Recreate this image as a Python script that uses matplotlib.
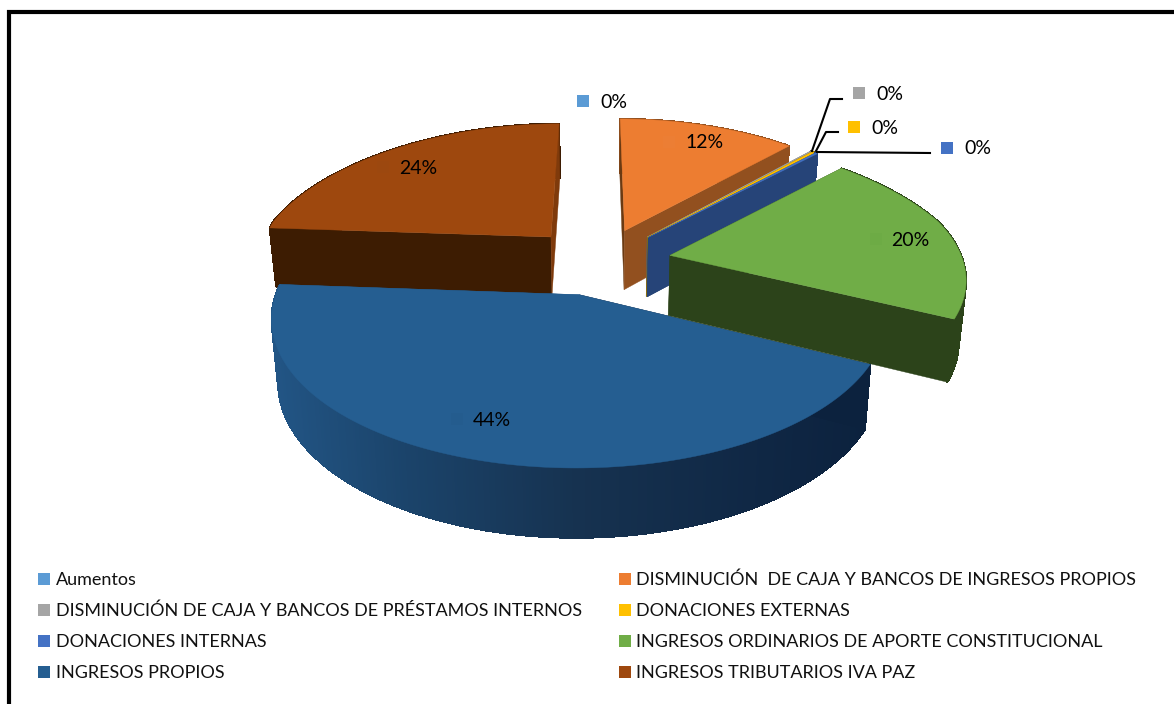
import numpy as np
import matplotlib
matplotlib.use("Agg")
import matplotlib.pyplot as plt
from matplotlib.patches import Rectangle

categories = [
    "Aumentos",
    "DISMINUCIÓN  DE CAJA Y BANCOS DE INGRESOS PROPIOS",
    "DISMINUCIÓN DE CAJA Y BANCOS DE PRÉSTAMOS INTERNOS",
    "DONACIONES EXTERNAS",
    "DONACIONES INTERNAS",
    "INGRESOS ORDINARIOS DE APORTE CONSTITUCIONAL",
    "INGRESOS PROPIOS",
    "INGRESOS TRIBUTARIOS IVA PAZ",
]
values = [0.0, 11.9, 0.1, 0.2, 0.15, 19.9, 43.8, 23.85]
colors = ["#5b9bd5", "#ed7d31", "#a5a5a5", "#ffc000", "#4472c4", "#70ad47", "#255e91", "#9e480e"]
# side colours: the face at the start angle, the face at the end angle, the rim
start_faces = ["#5b9bd5", "#6b3a12", "#5f5f5f", "#927000", "#264478", "#2c431a", "#0c223e", "#3d1c02"]
end_faces = ["#5b9bd5", "#92501f", "#5f5f5f", "#927000", "#264478", "#2c431a", "#225585", "#7f3a0b"]
rims = ["#5b9bd5", "#92501f", "#5f5f5f", "#927000", "#264478", "#2c431a", None, "#3d1c02"]

# where the pie sits on the page, in pixels
CX, CY = 599, 261
A, B, PERSP = 293, 136.5, 0.148
EXPLODE = 0.247


def top_point(u, v):
    s = 1 / (1 + PERSP * v)
    # the far half narrows a bit more than it flattens
    squeeze = 1 / (1 + 0.06 * np.maximum(v - 0.3, 0))
    return CX + A * u * s * squeeze, CY - B * v * s


def bottom_point(x, y):
    return CX + (x - CX) * 0.98, y + 59 + (y - 230) * 0.045


def blue_rim_color(x):
    xs = [270, 400, 575, 800, 870]
    rgb = [(0x22, 0x55, 0x85), (0x1b, 0x44, 0x6b), (0x16, 0x32, 0x50), (0x0e, 0x25, 0x42), (0x0c, 0x22, 0x3e)]
    return tuple(np.interp(x, xs, [c[i] for c in rgb]) / 255 for i in range(3))


fig = plt.figure(figsize=(11.74, 7.04), dpi=100)
ax = fig.add_axes([0, 0, 1, 1])
ax.set_xlim(0, 1174)
ax.set_ylim(704, 0)
ax.axis("off")
plt.rcParams["font.family"] = ["Lato", "DejaVu Sans"]

# outer frame: left and top only, the right side runs off the page
ax.plot([9, 9, 1174], [704, 12, 12], color="black", lw=3.0, solid_joinstyle="miter")

shares = np.array(values) / sum(values) * 2 * np.pi
ends = np.cumsum(shares)
starts = ends - shares

# painter's order: back wedges first, then the front ones
order = [7, 1, 2, 3, 4, 6, 5]
for i in order:
    t0, t1 = starts[i], ends[i]
    mid = (t0 + t1) / 2
    off_u, off_v = EXPLODE * np.sin(mid), EXPLODE * np.cos(mid)
    ts = np.linspace(t0, t1, max(2, int(np.degrees(t1 - t0)) * 2))
    px, py = top_point(off_u + np.sin(ts), off_v + np.cos(ts))
    ax_, ay_ = top_point(off_u, off_v)
    bx, by = bottom_point(px, py)
    abx, aby = bottom_point(ax_, ay_)

    # rim
    for j in range(len(ts) - 1):
        c = rims[i] if rims[i] else blue_rim_color((px[j] + px[j + 1]) / 2)
        ax.fill([px[j], px[j + 1], bx[j + 1], bx[j]], [py[j], py[j + 1], by[j + 1], by[j]],
                color=c, lw=0.8, antialiased=False)
        ax.plot([bx[j], bx[j + 1]], [by[j], by[j + 1]], color=c, lw=0.8, zorder=1)
    # flat cut faces
    ax.fill([ax_, px[0], bx[0], abx], [ay_, py[0], by[0], aby], color=start_faces[i], lw=0.3)
    ax.fill([ax_, px[-1], bx[-1], abx], [ay_, py[-1], by[-1], aby], color=end_faces[i], lw=0.3)
    # top
    ax.fill(np.r_[ax_, px], np.r_[ay_, py], color=colors[i], lw=0.3)

# labels on the slices, with their faint keys
label_pos = {1: (705, 142), 5: (910, 240), 6: (492, 420), 7: (418, 168)}
key_pos = {1: (669, 142), 5: (876, 239), 6: (457, 419), 7: (383, 167)}
key_tint = {1: "#ec7e34", 5: "#6dab45", 6: "#245c8e", 7: "#9c480f"}
for i, (x, y) in label_pos.items():
    ax.text(x, y, f"{round(values[i])}%", fontsize=14, ha="center", va="center", color="black", zorder=10)
    kx, ky = key_pos[i]
    ax.add_patch(Rectangle((kx - 6, ky - 6), 12, 12, color=key_tint[i], lw=0, zorder=9))

# the near-zero slices, labelled outside
out_labels = {0: (577, 101), 2: (853, 93), 3: (848, 127), 4: (941, 148)}
for i, (x, y) in out_labels.items():
    ax.add_patch(Rectangle((x, y - 6), 12, 12, color=colors[i], lw=0, zorder=9))
    ax.text(x + 23, y + 1, f"{round(values[i])}%", fontsize=14, ha="left", va="center", zorder=10)
ax.plot([812, 830, 842], [151, 99, 99], color="black", lw=1.5, zorder=8)
ax.plot([816, 826, 838], [151, 132, 132], color="black", lw=1.5, zorder=8)
ax.plot([817, 930], [152, 153], color="black", lw=1.5, zorder=8)

# legend
leg_x = [38, 619]
leg_y = [579, 610, 641, 672]
for i, name in enumerate(categories):
    x, y = leg_x[i % 2], leg_y[i // 2]
    ax.add_patch(Rectangle((x, y - 6), 12, 12, color=colors[i], lw=0))
    ax.text(x + 17.5, y + 1, name, fontsize=13, ha="left", va="center", color="#111111")

fig.savefig("out.png", dpi=100)
